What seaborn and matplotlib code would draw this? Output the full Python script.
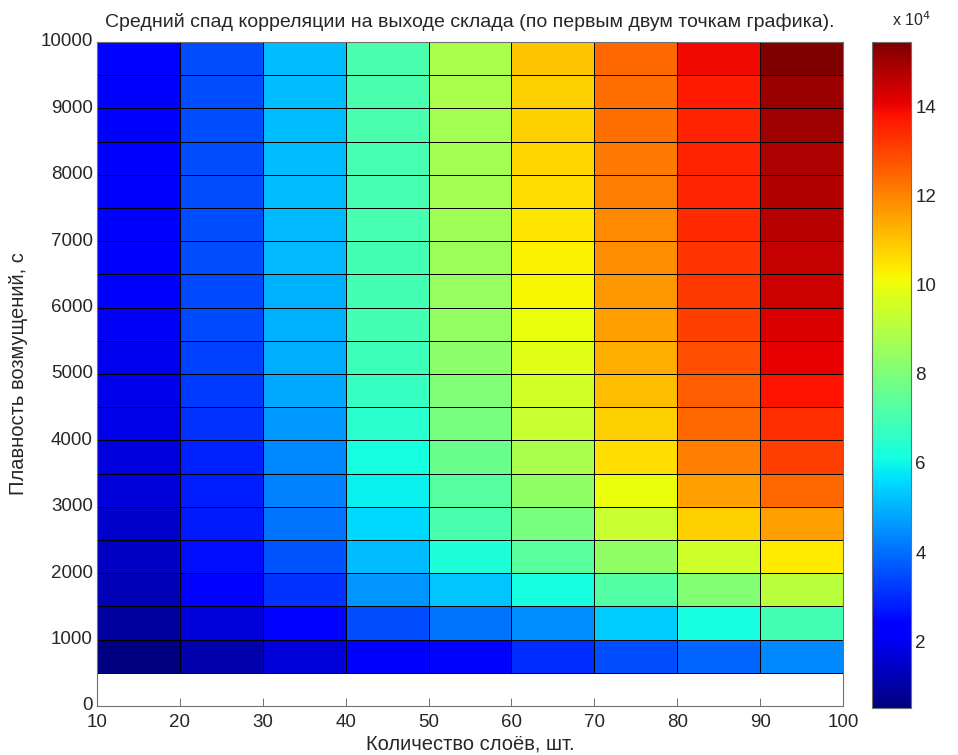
import numpy as np
import pandas as pd
import matplotlib
matplotlib.use("Agg")
import matplotlib.pyplot as plt
import seaborn as sns

sns.set_style("white")
plt.rcParams['font.family'] = ['Liberation Sans', 'DejaVu Sans']

# Layers (x cell left edges) and smoothness (y cell bottom edges)
layers = [10, 20, 30, 40, 50, 60, 70, 80, 90]
smooth = [500, 1000, 1500, 2000, 2500, 3000, 3500, 4000, 4500, 5000,
          5500, 6000, 6500, 7000, 7500, 8000, 8500, 9000, 9500]

# values in units of 1e4, one list per layer column, bottom row first
col_10 = [0.50, 0.95, 1.25, 1.40, 1.55, 1.70, 1.77, 1.85, 1.92, 2.00,
          2.07, 2.14, 2.14, 2.22, 2.22, 2.29, 2.29, 2.29, 2.37]
col_20 = [1.10, 1.70, 2.37, 2.59, 2.74, 2.82, 2.89, 3.12, 3.19, 3.34,
          3.42, 3.42, 3.49, 3.49, 3.49, 3.50, 3.50, 3.51, 3.51]
col_30 = [1.70, 2.37, 3.12, 3.64, 4.09, 4.24, 4.39, 4.61, 4.84, 4.91,
          4.99, 4.99, 5.06, 5.06, 5.13, 5.13, 5.13, 5.14, 5.14]
col_40 = [2.29, 3.49, 4.54, 5.13, 5.58, 5.88, 6.11, 6.48, 6.70, 6.85,
          6.93, 6.93, 6.93, 7.00, 7.00, 7.00, 7.08, 7.08, 7.08]
col_50 = [2.44, 4.09, 5.28, 6.33, 7.08, 7.30, 7.68, 7.90, 8.05, 8.27,
          8.42, 8.50, 8.57, 8.65, 8.72, 8.72, 8.72, 8.80, 8.80]
col_60 = [3.04, 4.46, 6.11, 7.38, 7.90, 8.35, 8.80, 9.32, 9.54, 9.84,
          9.99, 10.22, 10.29, 10.44, 10.59, 10.67, 10.82, 10.82, 10.97]
col_70 = [3.49, 5.36, 7.23, 8.35, 9.32, 9.99, 10.59, 10.82, 11.11, 11.34,
          11.56, 11.71, 11.86, 11.94, 12.09, 12.16, 12.31, 12.31, 12.46]
col_80 = [3.86, 6.11, 8.12, 9.47, 10.82, 11.56, 12.09, 12.46, 12.61, 12.83,
          13.06, 13.21, 13.28, 13.43, 13.51, 13.58, 13.58, 13.66, 13.96]
col_90 = [4.39, 6.93, 9.10, 10.37, 11.56, 12.46, 13.06, 13.36, 13.81, 14.10,
          14.25, 14.40, 14.55, 14.70, 14.78, 14.85, 15.00, 15.08, 15.45]

x_ticks = [10, 20, 30, 40, 50, 60, 70, 80, 90, 100]
y_ticks = [0, 1000, 2000, 3000, 4000, 5000, 6000, 7000, 8000, 9000, 10000]
cbar_ticks = [2, 4, 6, 8, 10, 12, 14]

title = "Средний спад корреляции на выходе склада (по первым двум точкам графика)."
xlabel = "Количество слоёв, шт."
ylabel = "Плавность возмущений, с"

df = pd.DataFrame({l: c for l, c in zip(layers, [col_10, col_20, col_30, col_40, col_50,
                                                   col_60, col_70, col_80, col_90])},
                  index=smooth)

W, H = 958, 755
fig = plt.figure(figsize=(W / 100, H / 100), dpi=100)
ax = fig.add_axes([97 / W, 1 - 706 / H, 746 / W, 664 / H])
cax = fig.add_axes([872 / W, 1 - 708 / H, 39 / W, 666 / H])

sns.heatmap(df, ax=ax, cmap="jet", vmin=0.5, vmax=15.45,
            linewidths=0.7, linecolor="black", cbar_ax=cax)

# map data coordinates: x = 10 + 10*pos, y = 500 + 500*pos
ax.set_xlim(0, len(layers))
ax.set_ylim(-1, len(smooth))
ax.set_xticks([(v - 10) / 10 for v in x_ticks])
ax.set_xticklabels([str(v) for v in x_ticks], fontsize=13.5, rotation=0)
ax.set_yticks([(v - 500) / 500 for v in y_ticks])
ax.set_yticklabels([str(v) for v in y_ticks], fontsize=13.5, rotation=0)
ax.tick_params(direction="in", length=6, width=0.7, color="#707070",
               bottom=True, left=True, top=False, right=False)
ax.tick_params(axis="x", pad=6)
ax.tick_params(axis="y", pad=3)
for s in ax.spines.values():
    s.set_visible(True)
    s.set_color("#707070")
    s.set_linewidth(0.8)
ax.set_xlabel(xlabel, fontsize=14.5)
ax.set_ylabel(ylabel, fontsize=14.5)
ax.xaxis.set_label_coords(0.5, -0.043)
ax.yaxis.set_label_coords(-0.093, 0.5)
ax.set_title(title, fontsize=14, pad=11)

cb = ax.collections[0].colorbar
cb.outline.set_visible(True)
cb.outline.set_linewidth(0.8)
cb.outline.set_edgecolor("#707070")
cb.set_ticks(cbar_ticks)
cb.set_ticklabels([str(t) for t in cbar_ticks])
cax.tick_params(direction="in", length=5, width=0.7, color="#505050",
                left=True, right=True, labelleft=False, labelright=True,
                labelsize=13.5, pad=3)
cax.text(0.5, 1.02, r"x 10$^4$", transform=cax.transAxes, fontsize=11.5,
         ha="left", va="bottom")

fig.savefig("out.png", dpi=100)
